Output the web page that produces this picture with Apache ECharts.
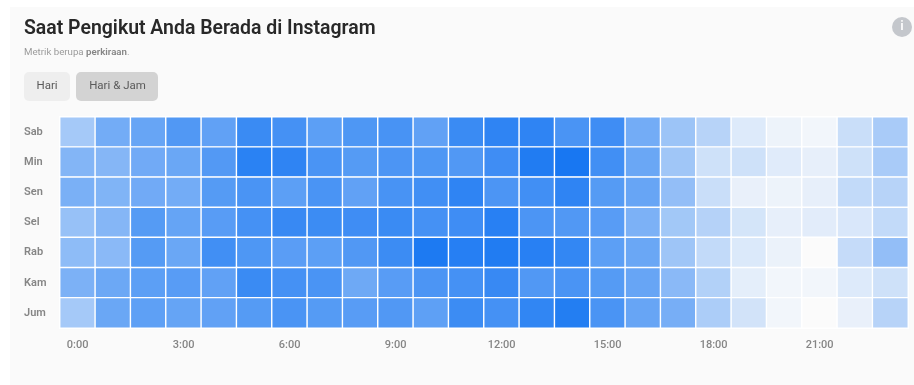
<!DOCTYPE html>
<html>
<head>
<meta charset="utf-8">
<style>
  html, body { margin: 0; padding: 0; background: #fff; }
  #chart { width: 914px; height: 385px; }
</style>
<script src="https://cdn.jsdelivr.net/npm/echarts@6/dist/echarts.min.js"></script>
</head>
<body>
<div id="chart"></div>
<script>
const days = ['Sab', 'Min', 'Sen', 'Sel', 'Rab', 'Kam', 'Jum'];
const hours = ['0:00', '', '', '3:00', '', '', '6:00', '', '', '9:00', '', '', '12:00', '', '', '15:00', '', '', '18:00', '', '', '21:00', '', ''];

// Relative follower activity per hour, one list per day
const sab = [38, 60, 65, 75, 68, 85, 80, 70, 76, 79, 68, 85, 90, 90, 78, 83, 60, 42, 30, 13, 6, 4, 22, 36];
const min = [53, 52, 61, 64, 74, 92, 90, 78, 73, 77, 76, 75, 83, 96, 100, 82, 64, 40, 20, 20, 12, 9, 20, 36];
const sen = [57, 54, 61, 60, 73, 78, 70, 78, 68, 79, 82, 90, 77, 82, 90, 73, 65, 46, 22, 8, 6, 9, 25, 30];
const sel = [44, 52, 73, 66, 72, 80, 86, 84, 83, 85, 80, 83, 93, 77, 75, 72, 56, 39, 31, 17, 9, 11, 15, 25];
const rab = [48, 50, 73, 64, 82, 76, 71, 70, 75, 84, 98, 94, 96, 93, 88, 70, 64, 41, 25, 14, 7, 0, 24, 46];
const kam = [56, 63, 70, 72, 68, 85, 80, 78, 62, 72, 77, 80, 86, 75, 78, 73, 65, 50, 32, 10, 4, 4, 13, 20];
const jum = [38, 64, 69, 66, 68, 73, 78, 73, 72, 75, 69, 84, 80, 89, 95, 78, 65, 58, 35, 18, 4, 0, 8, 30];

const rows = [sab, min, sen, sel, rab, kam, jum];
const cells = rows.flatMap((row, d) => row.map((v, h) => [h, d, v]));

const fontFamily = 'Roboto, sans-serif';
const chart = echarts.init(document.getElementById('chart'), null, { renderer: 'canvas' });

chart.setOption({
  backgroundColor: '#ffffff',
  animation: false,
  textStyle: { fontFamily },
  grid: { left: 60, right: 6, top: 117, bottom: 57 },
  xAxis: {
    type: 'category',
    data: hours,
    splitArea: { show: false },
    splitLine: { show: false },
    axisTick: { show: false },
    axisLine: { show: true, lineStyle: { color: '#eeeeee', width: 1 } },
    axisLabel: { interval: 0, color: '#858585', fontSize: 11, margin: 12, fontWeight: 500, fontFamily }
  },
  yAxis: {
    type: 'category',
    data: days,
    inverse: true,
    splitLine: { show: false },
    axisTick: { show: false },
    axisLine: { show: false },
    axisLabel: { color: '#858585', fontSize: 11, margin: 36, align: 'left', fontWeight: 600, fontFamily }
  },
  visualMap: {
    show: false,
    min: 0,
    max: 100,
    dimension: 2,
    inRange: { color: ['#fbfbfb', '#1877f2'] }
  },
  series: [{
    type: 'heatmap',
    data: cells,
    itemStyle: { borderColor: '#ffffff', borderWidth: 1.4 },
    emphasis: { disabled: true }
  }],
  graphic: [
    { type: 'rect', z: -10, silent: true, shape: { x: 10, y: 7, width: 904, height: 378 }, style: { fill: '#fafafa' } },
    { type: 'text', x: 24, y: 29, style: { text: 'Saat Pengikut Anda Berada di Instagram', font: '600 19.45px Roboto, sans-serif', fill: '#282828', textVerticalAlign: 'middle' } },
    {
      type: 'text', x: 24, y: 53,
      style: {
        text: '{a|Metrik berupa }{b|perkiraan}{a|.}',
        textVerticalAlign: 'middle',
        rich: {
          a: { font: '9.7px Roboto, sans-serif', fill: '#9a9a9a' },
          b: { font: '600 9.7px Roboto, sans-serif', fill: '#858585' }
        }
      }
    },
    { type: 'rect', shape: { x: 24, y: 72, width: 46, height: 29, r: 5 }, style: { fill: '#eeeeee' } },
    { type: 'text', x: 47, y: 86.5, style: { text: 'Hari', font: '11.5px Roboto, sans-serif', fill: '#5a5a5a', textAlign: 'center', textVerticalAlign: 'middle' } },
    { type: 'rect', shape: { x: 76, y: 72, width: 82, height: 29, r: 5 }, style: { fill: '#d3d3d3' } },
    { type: 'text', x: 117.5, y: 86.5, style: { text: 'Hari & Jam', font: '11.5px Roboto, sans-serif', fill: '#5a5a5a', textAlign: 'center', textVerticalAlign: 'middle' } },
    { type: 'circle', shape: { cx: 902, cy: 27, r: 10 }, style: { fill: '#c4c7cc' } },
    { type: 'text', x: 902, y: 27, style: { text: 'i', font: '700 13px Roboto, sans-serif', fill: '#fafafa', textAlign: 'center', textVerticalAlign: 'middle' } }
  ]
});
</script>
</body>
</html>
